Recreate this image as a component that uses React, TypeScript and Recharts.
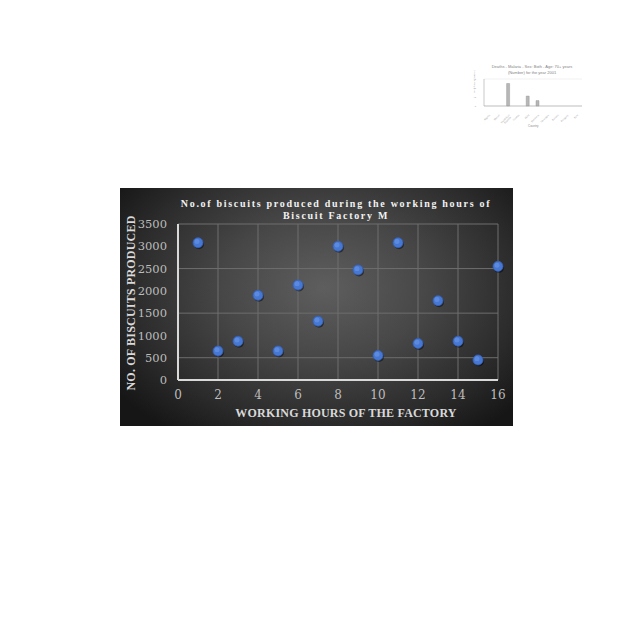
import React from 'react';
import {
  ScatterChart,
  Scatter,
  XAxis,
  YAxis,
  CartesianGrid,
  BarChart,
  Bar,
} from 'recharts';

const hours = [1, 2, 3, 4, 5, 6, 7, 8, 9, 10, 11, 12, 13, 14, 15, 16];
const biscuits = [3080, 650, 870, 1900, 650, 2130, 1320, 3000, 2470, 550, 3080, 820, 1780, 870, 450, 2550];
const xTicks = [0, 2, 4, 6, 8, 10, 12, 14, 16];
const yTicks = [0, 500, 1000, 1500, 2000, 2500, 3000, 3500];

const countries = ['Algeria', 'Bhutan', 'Dominican Republic', 'Gambia', 'Haiti', 'Honduras', 'Nicaragua', 'Panama', 'Paraguay', 'Peru'];
const deaths = [0, 0, 25, 0, 11, 6, 0, 0, 0, 0];
const deathTicks = [0, 5, 10, 15, 20, 25, 30];

const scatterData = hours.map((h, i) => ({ h, v: biscuits[i] }));
const barData = countries.map((c, i) => ({ c, d: deaths[i] }));

const serif = '"DejaVu Serif", serif';
const boldSerif = '"Liberation Serif", serif';

const Dot = (props: any) => {
  const { cx, cy } = props;
  return (
    <g>
      <circle cx={cx + 1} cy={cy + 1.5} r={5} fill="rgba(0,0,0,0.45)" />
      <circle cx={cx} cy={cy} r={5} fill="#4677d2" stroke="#3560b5" strokeWidth={0.8} />
      <circle cx={cx - 1} cy={cy - 1.2} r={2.5} fill="#6a97e6" opacity={0.6} />
    </g>
  );
};

function MainChart() {
  return (
    <div
      style={{
        position: 'absolute',
        left: 120,
        top: 188,
        width: 393,
        height: 238,
        background: 'radial-gradient(ellipse 65% 75% at 52% 42%, #5e5e5e 0%, #474747 40%, #2c2c2c 75%, #161616 100%)',
      }}
    >
      <ScatterChart width={393} height={238} margin={{ top: 36, right: 15, bottom: 0, left: 0 }}>
        <CartesianGrid stroke="#6e6e6e" strokeWidth={1} />
        <XAxis
          type="number"
          dataKey="h"
          domain={[0, 16]}
          ticks={xTicks}
          height={46}
          axisLine={{ stroke: '#d9d9d9', strokeWidth: 2 }}
          tickLine={false}
          tick={{ fill: '#bdbdbd', fontSize: 12, fontFamily: serif }}
          tickMargin={4}
        />
        <YAxis
          type="number"
          dataKey="v"
          domain={[0, 3500]}
          ticks={yTicks}
          width={58}
          axisLine={{ stroke: '#d9d9d9', strokeWidth: 2 }}
          tickLine={false}
          tick={{ fill: '#bdbdbd', fontSize: 11.5, fontFamily: serif }}
          tickMargin={5}
        />
        <Scatter data={scatterData} shape={Dot} isAnimationActive={false} />
      </ScatterChart>
      <div
        style={{
          position: 'absolute',
          left: 0,
          width: 432,
          top: 10,
          textAlign: 'center',
          color: '#f2f2f2',
          fontFamily: boldSerif,
          fontWeight: 'bold',
          fontSize: 10,
          letterSpacing: 1.7,
          lineHeight: '12px',
          whiteSpace: 'nowrap',
        }}
      >
        No.of biscuits produced during the working hours of
        <br />
        Biscuit Factory M
      </div>
      <div
        style={{
          position: 'absolute',
          left: 0,
          width: 452,
          top: 218,
          textAlign: 'center',
          color: '#d9d9d9',
          fontFamily: boldSerif,
          fontWeight: 'bold',
          fontSize: 12,
          letterSpacing: 0.2,
          whiteSpace: 'nowrap',
        }}
      >
        WORKING HOURS OF THE FACTORY
      </div>
      <div style={{ position: 'absolute', left: 11, top: 115, width: 0, height: 0 }}>
        <div
          style={{
            position: 'absolute',
            left: 0,
            top: 0,
            transform: 'translate(-50%, -50%) rotate(-90deg)',
            color: '#d9d9d9',
            fontFamily: boldSerif,
            fontWeight: 'bold',
            fontSize: 12,
            lineHeight: '12px',
            letterSpacing: 0.2,
            whiteSpace: 'nowrap',
          }}
        >
          NO. OF BISCUITS PRODUCED
        </div>
      </div>
    </div>
  );
}

function SmallChart() {
  return (
    <div style={{ position: 'absolute', left: 470, top: 60, width: 120, height: 75, opacity: 0.75 }}>
      <BarChart width={120} height={75} data={barData} margin={{ top: 19, right: 8, bottom: 0, left: 0 }} barCategoryGap="30%">
        <CartesianGrid vertical={false} stroke="#cfcfcf" strokeWidth={0.4} />
        <XAxis
          dataKey="c"
          height={29}
          interval={0}
          axisLine={{ stroke: '#888', strokeWidth: 0.6 }}
          tickLine={false}
          tick={{ fill: '#777', fontSize: 2.6, angle: -45, textAnchor: 'end' } as any}
        />
        <YAxis
          domain={[0, 30]}
          ticks={deathTicks}
          width={14}
          axisLine={{ stroke: '#888', strokeWidth: 0.6 }}
          tickLine={false}
          tick={{ fill: '#777', fontSize: 2.6 }}
          label={{ value: 'No. of deaths (number)', angle: -90, position: 'insideLeft', offset: 4, fontSize: 2.4, fill: '#777' }}
        />
        <Bar dataKey="d" fill="#a0a0a0" stroke="#666" strokeWidth={0.4} barSize={3} isAnimationActive={false} />
      </BarChart>
      <div
        style={{
          position: 'absolute',
          left: 0,
          width: 124,
          top: 4,
          textAlign: 'center',
          fontFamily: '"Liberation Sans", sans-serif',
          fontSize: 4,
          lineHeight: '6px',
          color: '#555',
        }}
      >
        Deaths - Malaria - Sex: Both - Age: 70+ years
        <br />
        (Number) for the year 2001
      </div>
      <div
        style={{
          position: 'absolute',
          left: 58,
          top: 64,
          fontFamily: '"Liberation Sans", sans-serif',
          fontSize: 3,
          color: '#666',
        }}
      >
        Country
      </div>
    </div>
  );
}

export default function App() {
  return (
    <div style={{ position: 'absolute', left: 0, top: 0, width: 640, height: 640, background: '#fff' }}>
      <SmallChart />
      <MainChart />
    </div>
  );
}
